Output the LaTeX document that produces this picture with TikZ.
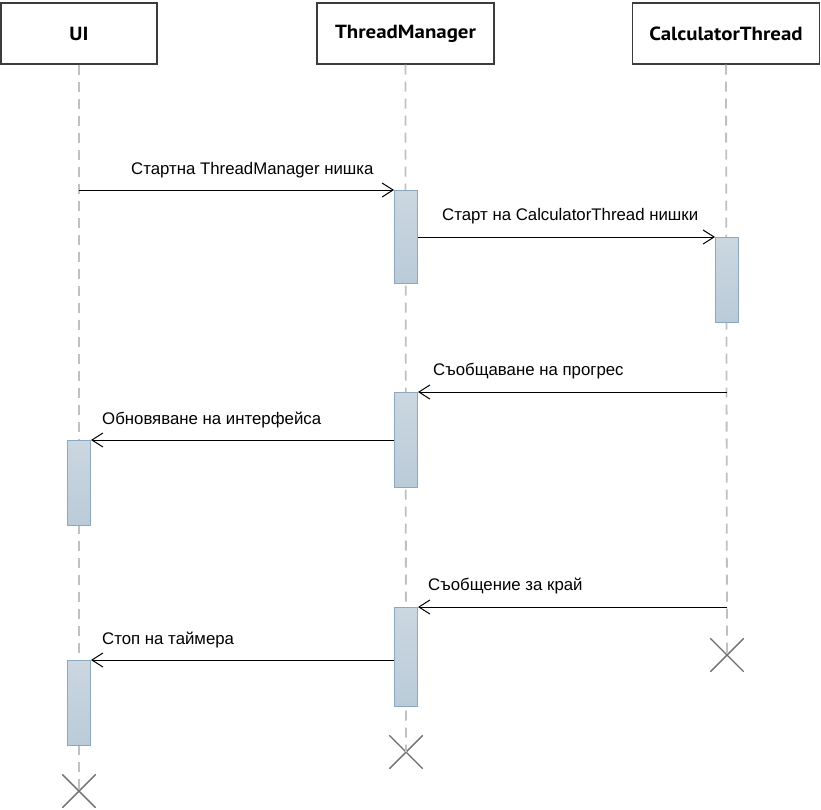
\documentclass[tikz,border=0pt]{standalone}
\usepackage{fontspec}
\setmainfont{Liberation Sans}
\newfontfamily\headfont[FakeStretch=1.1]{PT Sans}
\usetikzlibrary{arrows.meta,shapes.misc}
\definecolor{lifegray}{RGB}{192,192,192}
\definecolor{actfilltop}{RGB}{203,215,225}
\definecolor{actfillbot}{RGB}{186,203,216}
\definecolor{actdraw}{RGB}{140,168,192}
\definecolor{xgray}{RGB}{110,110,110}
\definecolor{headdraw}{RGB}{60,60,60}
\tikzset{
  head/.style={draw=headdraw, line width=1.4pt, fill=white, inner sep=0pt,
    font=\headfont\bfseries\fontsize{19}{21}\selectfont, minimum height=61pt},
  lifeline/.style={draw=lifegray, line width=1.8pt, dash pattern=on 10pt off 7pt},
  act/.style={draw=actdraw, line width=1pt, top color=actfilltop, bottom color=actfillbot,
    minimum width=23pt, inner sep=0pt, anchor=north},
  msg/.style={draw=black, line width=1pt, -{Straight Barb[length=11pt,width=14pt,line width=1pt]}},
  lbl/.style={anchor=west, inner sep=0pt, font=\fontsize{16.8}{19}\selectfont},
  xmark/.style={cross out, draw=xgray, line width=1.4pt, minimum size=32pt, inner sep=0pt}
}
\begin{document}
\begin{tikzpicture}[x=1pt,y=-1pt]
\useasboundingbox (0,0) rectangle (821,809);

% headers
\node[head, minimum width=156pt] (ui) at (79,33.5) {UI};
\node[head, minimum width=177pt] (tm) at (405.5,33.5) {ThreadManager};
\node[head, minimum width=187pt] (ct) at (726,33.5) {CalculatorThread};

% end marks
\node[xmark] (xui) at (79,791) {};
\node[xmark] (xtm) at (406,752) {};
\node[xmark] (xct) at (727,655) {};

% lifelines
\draw[lifeline] (ui.south) -- (xui.center);
\draw[lifeline] (tm.south) -- (xtm.center);
\draw[lifeline] (ct.south) -- (xct.center);

% activations
\node[act, minimum height=93pt] (a1) at (406,190) {};
\node[act, minimum height=85pt] (a2) at (727,237) {};
\node[act, minimum height=95pt] (a3) at (406,392) {};
\node[act, minimum height=85pt] (a4) at (79,440) {};
\node[act, minimum height=99pt] (a5) at (406,607) {};
\node[act, minimum height=85pt] (a6) at (79,660) {};

% message start points
\coordinate (s1) at (79,190);
\coordinate (s2) at (a1.east |- a2.north);
\coordinate (s3) at (727,392);
\coordinate (s4) at (a3.west |- a4.north);
\coordinate (s5) at (727,607);
\coordinate (s6) at (a5.west |- a6.north);

% messages
\draw[msg] (s1) -- (a1.north west);
\draw[msg] (s2) -- (a2.north west);
\draw[msg] (s3) -- (a3.north east);
\draw[msg] (s4) -- (a4.north east);
\draw[msg] (s5) -- (a5.north east);
\draw[msg] (s6) -- (a6.north east);

% labels
\node[lbl] (l1) at (131,170) {Стартна ThreadManager нишка};
\node[lbl] (l2) at (442,216) {Старт на CalculatorThread нишки};
\node[lbl] (l3) at (433,371) {Съобщаване на прогрес};
\node[lbl] (l4) at (102,420) {Обновяване на интерфейса};
\node[lbl] (l5) at (428,586) {Съобщение за край};
\node[lbl] (l6) at (102,640) {Стоп на таймера};
\end{tikzpicture}
\end{document}
